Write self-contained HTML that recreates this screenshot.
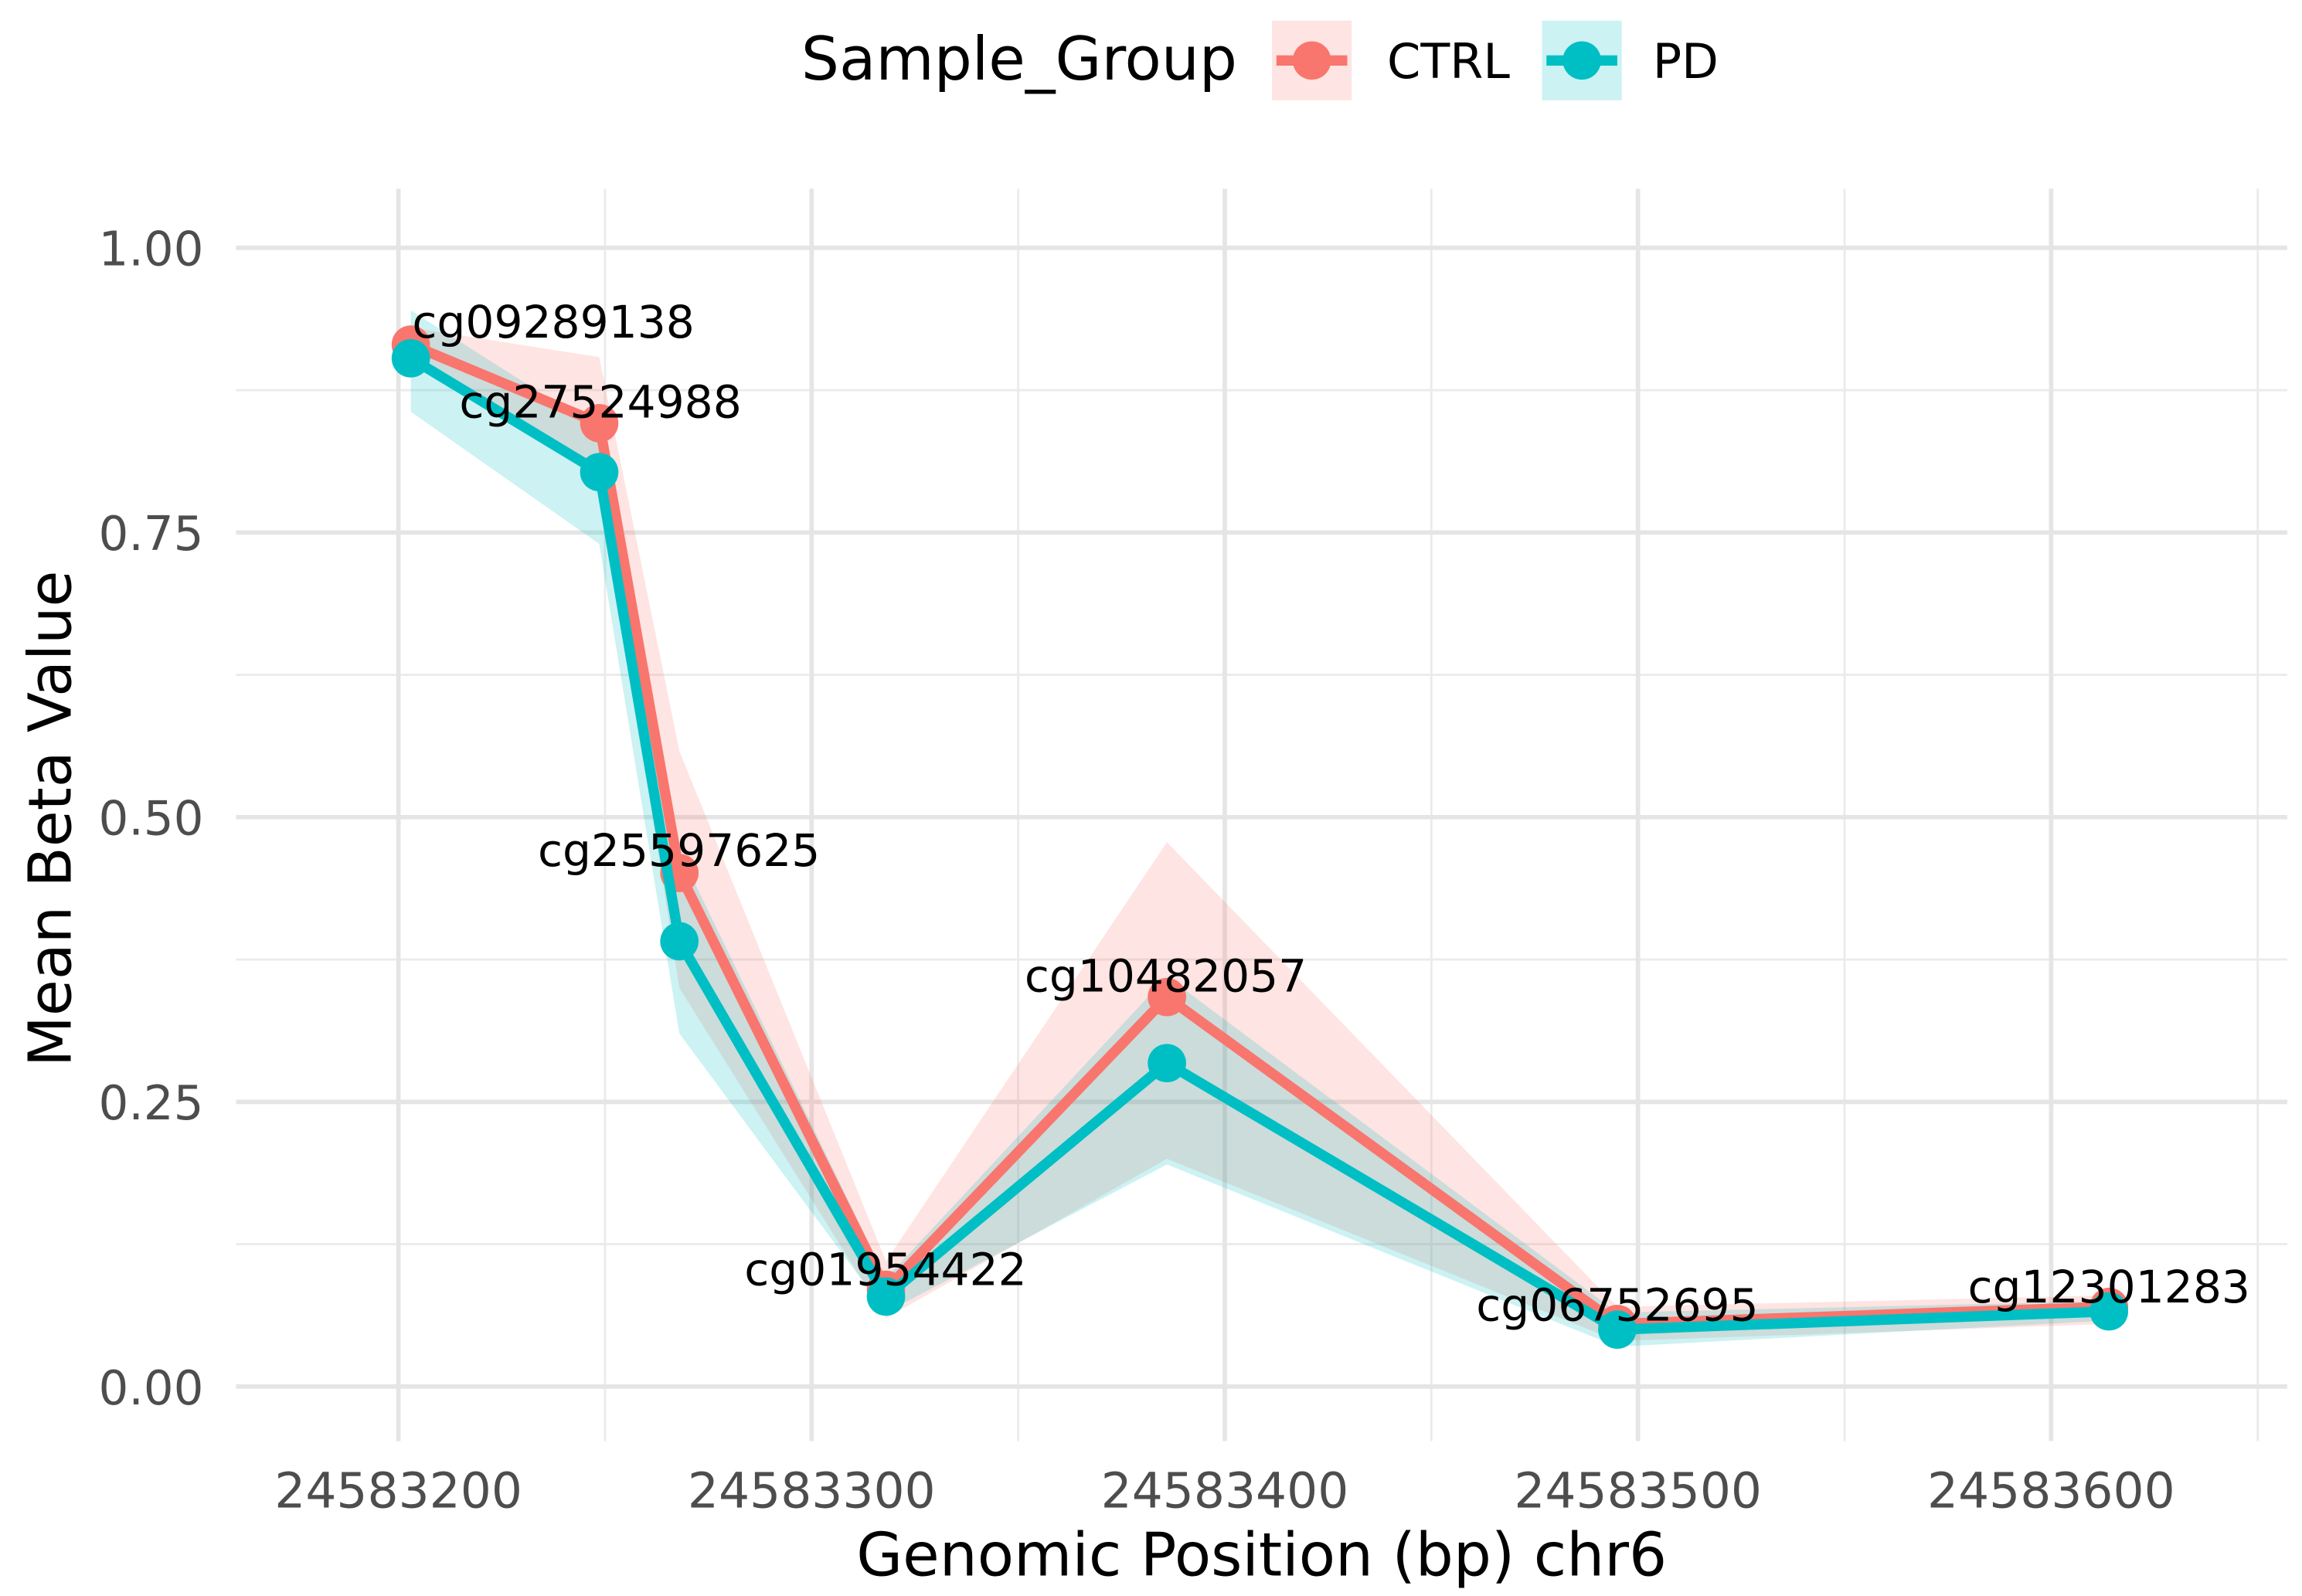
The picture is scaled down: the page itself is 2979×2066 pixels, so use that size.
<!DOCTYPE html>
<html><head><meta charset="utf-8"><style>
html,body{margin:0;padding:0;background:#fff;}
svg{display:block;font-family:"DejaVu Sans","Liberation Sans",sans-serif;}
</style></head><body>
<svg id="chart" width="2979" height="2066" viewBox="0 0 1560 1082" preserveAspectRatio="none" xmlns="http://www.w3.org/2000/svg">
<rect width="1560" height="1082" fill="#fff"/>
<g id="grid"></g>
<g id="ribbons"></g>
<g id="lines"></g>
<g id="labels"></g>
<g id="axes"></g>
<text x="855" y="1068" font-size="40.5" text-anchor="middle" fill="#000">Genomic Position (bp) chr6</text>
<text transform="translate(48,555) rotate(-90)" font-size="40" text-anchor="middle" fill="#000">Mean Beta Value</text>
<g>
<text x="543" y="54" font-size="40.5" fill="#000">Sample_Group</text>
<g>
<rect x="862" y="14" width="54" height="54" fill="#F8766D" fill-opacity="0.2"/>
<line x1="865" y1="41" x2="913" y2="41" stroke="#F8766D" stroke-width="7"/>
<circle cx="889" cy="41" r="13" fill="#F8766D"/>
<text x="940" y="53" font-size="32.5" fill="#000">CTRL</text>
</g>
<g>
<rect x="1045" y="14" width="54" height="54" fill="#00BFC4" fill-opacity="0.2"/>
<line x1="1048" y1="41" x2="1096" y2="41" stroke="#00BFC4" stroke-width="7"/>
<circle cx="1072" cy="41" r="13" fill="#00BFC4"/>
<text x="1120" y="53" font-size="32.5" fill="#000">PD</text>
</g>
</g>
</svg>
<script>
const probes = ["cg09289138","cg27524988","cg25597625","cg01954422","cg10482057","cg06752695","cg12301283"];
const positions = [24583203,24583248.6,24583268,24583318,24583386,24583495,24583614];
const ctrlMean = [0.915,0.846,0.451,0.085,0.342,0.055,0.070];
const ctrlLower = [0.90,0.80,0.35,0.06,0.20,0.04,0.055];
const ctrlUpper = [0.93,0.904,0.558,0.11,0.478,0.07,0.08];
const pdMean = [0.903,0.803,0.391,0.079,0.284,0.050,0.066];
const pdLower = [0.856,0.74,0.31,0.065,0.195,0.035,0.058];
const pdUpper = [0.945,0.84,0.47,0.095,0.36,0.065,0.075];
const labelPos = [24583237.5,24583248.9,24583267.9,24583317.9,24583385.7,24583495,24583614];
const labelVal = [0.921,0.851,0.457,0.089,0.347,0.058,0.074];
const xTicks = [24583200,24583300,24583400,24583500,24583600];
const xTickLabels = ["24583200","24583300","24583400","24583500","24583600"];
const yTicks = [0,0.25,0.5,0.75,1];
const yTickLabels = ["0.00","0.25","0.50","0.75","1.00"];

const NS="http://www.w3.org/2000/svg";
const X = v => 270 + (v-24583200)*2.8;
const Y = v => 940 - v*772;
function mk(tag, attrs, parent){const e=document.createElementNS(NS,tag);for(const k in attrs)e.setAttribute(k,attrs[k]);parent.appendChild(e);return e;}
const grid=document.getElementById('grid'), rib=document.getElementById('ribbons'), ln=document.getElementById('lines'), lab=document.getElementById('labels'), ax=document.getElementById('axes');
const L=160,R=1550,T=128,B=977;
for(let i=0;i<yTicks.length-1;i++){const v=(yTicks[i]+yTicks[i+1])/2;
 const g=mk('line',{x1:L,x2:R,y1:Y(v),y2:Y(v),stroke:'#ebebeb','stroke-width':1.5},grid);
 
 }
for(let i=0;i<xTicks.length;i++){const v=xTicks[i]+50;
 const g=mk('line',{x1:X(v),x2:X(v),y1:T,y2:B,stroke:'#ebebeb','stroke-width':1.5},grid);
 
 }
yTicks.forEach((v,i)=>{
 const g=mk('line',{x1:L,x2:R,y1:Y(v),y2:Y(v),stroke:'#e5e5e5','stroke-width':3},grid);
 
 
 const t=mk('text',{x:138,y:Y(v)+12,'font-size':32,'text-anchor':'end',fill:'#4d4d4d'},ax);
 t.textContent=yTickLabels[i];
 
 
});
xTicks.forEach((v,i)=>{
 const g=mk('line',{x1:X(v),x2:X(v),y1:T,y2:B,stroke:'#e5e5e5','stroke-width':3},grid);
 
 
 const t=mk('text',{x:X(v),y:1022,'font-size':33,'text-anchor':'middle',fill:'#4d4d4d'},ax);
 t.textContent=xTickLabels[i];
 
 
});
function ribbon(lo,hi,color,name){
 let d='M'+positions.map((p,i)=>X(p)+','+Y(hi[i])).join('L');
 for(let i=positions.length-1;i>=0;i--) d+='L'+X(positions[i])+','+Y(lo[i]);
 const p=mk('path',{d:d+'Z',fill:color,'fill-opacity':0.2},rib);
 
 
}
ribbon(ctrlLower,ctrlUpper,'#F8766D','ctrl-ribbon');
ribbon(pdLower,pdUpper,'#00BFC4','pd-ribbon');
function series(m,color,name){
 const pl=mk('polyline',{points:positions.map((p,i)=>X(p)+','+Y(m[i])).join(' '),fill:'none',stroke:color,'stroke-width':7,'stroke-linejoin':'round'},ln);
 
 
 positions.forEach((p,i)=>{
  const c=mk('circle',{cx:X(p),cy:Y(m[i]),r:13,fill:color},ln);
  
  
 });
}
series(ctrlMean,'#F8766D','ctrl');
series(pdMean,'#00BFC4','pd');
probes.forEach((n,i)=>{
 const t=mk('text',{x:X(labelPos[i]),y:Y(labelVal[i]),'font-size':30.5,'text-anchor':'middle',fill:'#000'},lab);
 t.textContent=n;
 
 
});
</script>
</body></html>
